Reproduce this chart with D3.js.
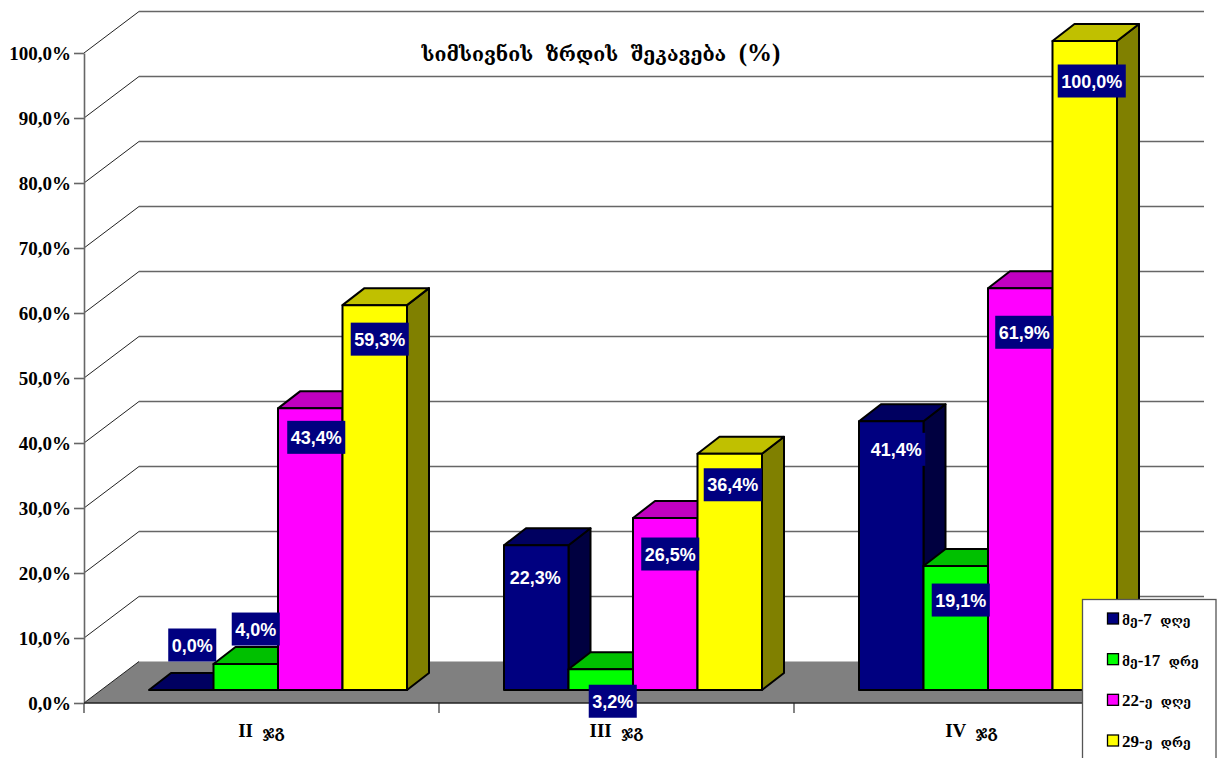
<!DOCTYPE html>
<html>
<head>
<meta charset="utf-8">
<script src="https://cdnjs.cloudflare.com/ajax/libs/d3/7.8.5/d3.min.js"></script>
<style>
html,body{margin:0;padding:0;background:#fff;overflow:hidden}
svg{display:block}
text{font-family:"Liberation Serif","DejaVu Serif",serif;font-weight:700;fill:#000;white-space:pre}
.val{font-family:"Liberation Sans",Arial,sans-serif;font-size:18px;fill:#fff;text-anchor:middle}
</style>
</head>
<body>
<svg id="c" width="1221" height="758"></svg>
<script>
const title = "სიმსივნის  ზრდის  შეკავება  (%)";
const categories = ["II  ჯგ", "III  ჯგ", "IV  ჯგ"];
const seriesNames = ["მე-7  დღე", "მე-17  დრე", "22-ე  დღე", "29-ე  დრე"];
const day7 = [0.0, 22.3, 41.4];
const day17 = [4.0, 3.2, 19.1];
const day22 = [43.4, 26.5, 61.9];
const day29 = [59.3, 36.4, 100.0];
const tickValues = [0, 10, 20, 30, 40, 50, 60, 70, 80, 90, 100];

const seriesValues = [day7, day17, day22, day29];
const fills = [
  {front: "#000080", top: "#000060", side: "#000040"},
  {front: "#00ff00", top: "#00c000", side: "#008000"},
  {front: "#ff00ff", top: "#c000c0", side: "#800080"},
  {front: "#ffff00", top: "#c0c000", side: "#808000"}
];
// hand-placed data label offsets from each bar's front top centre [dx, dy]
const labelOffsets = [
  [[11, -45], [10, -35], [6, 29], [5, 34]],
  [[-1, 32], [12, 32], [5, 36], [3, 31]],
  [[5, 28], [5, 34], [4, 44], [7, 40]]
];

const fmt = v => v.toFixed(1).replace(".", ",") + "%";
const svg = d3.select("#c");

// Georgian letters are set smaller than Latin letters and digits in the same line
function mixedText(sel, georgianSize, latinSize) {
  sel.each(function (d) {
    const node = d3.select(this);
    const str = node.text();
    node.text(null);
    for (const run of str.match(/[\u10A0-\u10FF]+|[^\u10A0-\u10FF]+/g)) {
      node.append("tspan")
        .style("font-size", (/[\u10A0-\u10FF]/.test(run) ? georgianSize : latinSize) + "px")
        .text(run);
    }
  });
}

const left = 84, right = 1149, wallDx = 55, wallDy = 41.5;
const y = d3.scaleLinear().domain([0, 100]).range([703, 53]);
const yBar = d3.scaleLinear().domain([0, 100]).range([690, 41]);
const x0 = d3.scaleBand().domain(categories).range([left, right]);
const x1 = d3.scaleBand().domain(d3.range(4)).range([65, 323]);
const barDx = 22, barDy = 17;

// back wall grid lines, each folding along the side wall
const grid = svg.append("g").attr("fill", "none");
grid.selectAll("path.side").data(tickValues.slice(1)).join("path")
  .attr("class", "side")
  .attr("stroke", "#222").attr("stroke-width", 1)
  .attr("d", v => d3.line()([[left, y(v)], [left + wallDx, y(v) - wallDy]]));
grid.selectAll("path.back").data(tickValues.slice(1)).join("path")
  .attr("class", "back")
  .attr("stroke", "#666").attr("stroke-width", 1.5)
  .attr("d", v => d3.line()([[left + wallDx, y(v) - wallDy], [right + wallDx, y(v) - wallDy]]));

// floor
svg.append("path")
  .attr("d", d3.line()([[left, y(0)], [left + wallDx, y(0) - wallDy], [right + wallDx, y(0) - wallDy], [right, y(0)]]) + "Z")
  .attr("fill", "#808080").attr("stroke", "none");
svg.append("path")
  .attr("d", d3.line()([[left, y(0)], [left + wallDx, y(0) - wallDy]]))
  .attr("stroke", "#222").attr("stroke-width", 1);

// value axis
const axisY = svg.append("g").attr("transform", `translate(${left},0)`)
  .call(d3.axisLeft(y).tickValues(tickValues).tickFormat(fmt).tickSize(10).tickPadding(3).tickSizeOuter(0));
axisY.selectAll("line").attr("stroke", "#666").attr("stroke-width", 1.6);
axisY.select(".domain").attr("stroke", "#666").attr("stroke-width", 1.6);
axisY.selectAll("text")
  .style("font-family", '"Liberation Serif",serif').style("font-size", "19px").style("font-weight", 700)
  .attr("fill", "#000");

// category axis: ticks sit on the band edges, labels in the band centres
const axisX = svg.append("g").attr("transform", `translate(0,${y(0)})`);
axisX.selectAll("line").data([left, ...categories.map(c => x0(c) + x0.bandwidth())]).join("line")
  .attr("x1", d => d).attr("x2", d => d).attr("y1", 0).attr("y2", 10)
  .attr("stroke", "#666").attr("stroke-width", 1.6);
axisX.append("line").attr("x1", left).attr("x2", right).attr("stroke", "#222").attr("stroke-width", 1.6);
svg.append("g").selectAll("text").data(categories).join("text")
  .attr("x", c => x0(c) + x0.bandwidth() / 2)
  .attr("y", 737).attr("text-anchor", "middle")
  .text(c => c).call(mixedText, 16, 19);

// bars, drawn left to right so each one hides its neighbour's side face
categories.forEach((cat, ci) => {
  seriesValues.forEach((vals, si) => {
    const v = vals[ci];
    const xa = x0(cat) + x1(si), xb = xa + x1.bandwidth();
    const yt = yBar(v), yb = yBar(0);
    const g = svg.append("g").attr("stroke", "#000").attr("stroke-width", 2).attr("stroke-linejoin", "round");
    if (v > 0) {
      g.append("path").attr("fill", fills[si].side)
        .attr("d", d3.line()([[xb, yt], [xb + barDx, yt - barDy], [xb + barDx, yb - barDy], [xb, yb]]) + "Z");
    }
    g.append("path").attr("fill", fills[si].top)
      .attr("d", d3.line()([[xa, yt], [xa + barDx, yt - barDy], [xb + barDx, yt - barDy], [xb, yt]]) + "Z");
    if (v > 0) {
      g.append("rect").attr("x", xa).attr("y", yt).attr("width", xb - xa).attr("height", yb - yt)
        .attr("fill", fills[si].front);
    }
  });
});

// data labels on navy plates
categories.forEach((cat, ci) => {
  seriesValues.forEach((vals, si) => {
    const v = vals[ci];
    const cx = x0(cat) + x1(si) + x1.bandwidth() / 2 + labelOffsets[ci][si][0];
    const cy = yBar(v) + labelOffsets[ci][si][1];
    const g = svg.append("g");
    const t = g.append("text").attr("class", "val").attr("x", cx).attr("y", cy + 6.5).text(fmt(v));
    const w = t.node().getComputedTextLength() + 7;
    g.insert("rect", "text").attr("x", cx - w / 2).attr("y", cy - 16.5)
      .attr("width", w).attr("height", 33).attr("fill", "#000080");
  });
});

// title
svg.append("text").attr("x", 601).attr("y", 61).attr("text-anchor", "middle")
  .text(title).call(mixedText, 19.5, 25);

// legend, running off the bottom edge of the page
const legend = svg.append("g");
legend.append("rect").attr("x", 1082.5).attr("y", 599.5).attr("width", 133.5).attr("height", 170)
  .attr("fill", "#fff").attr("stroke", "#555").attr("stroke-width", 1.3);
const legendY = d3.scalePoint().domain(d3.range(4)).range([619, 741]);
seriesNames.forEach((name, i) => {
  legend.append("rect").attr("x", 1107.5).attr("y", legendY(i) - 6).attr("width", 11).attr("height", 11)
    .attr("fill", fills[i].front).attr("stroke", "#000").attr("stroke-width", 1.3);
  legend.append("text").attr("x", 1122).attr("y", legendY(i) + 6)
    .text(name).call(mixedText, 12.5, 17);
});
</script>
</body>
</html>
